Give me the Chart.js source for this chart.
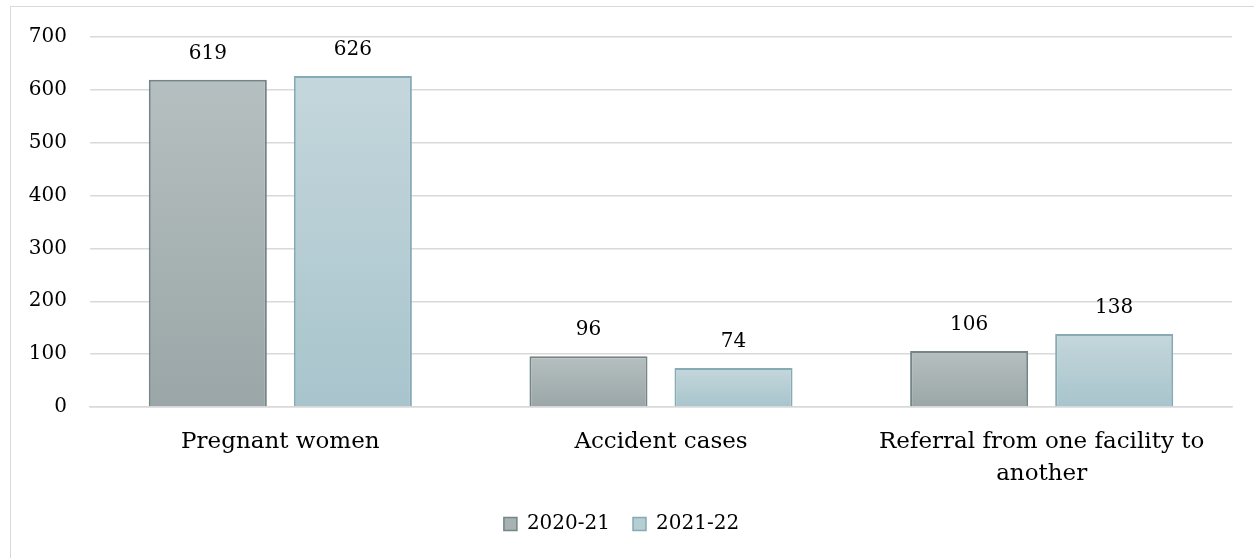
<!DOCTYPE html>
<html>
<head>
<meta charset="utf-8">
<script src="https://cdn.jsdelivr.net/npm/chart.js@4.4.0/dist/chart.umd.min.js"></script>
<style>
  html, body { margin: 0; padding: 0; background: #fff; overflow: hidden; width: 1254px; height: 558px; }
  #frame {
    position: absolute; left: 10px; top: 6px;
    width: 1320px; height: 600px;
    border: 1px solid #d9d9d9;
  }
  #wrap { position: absolute; left: 0; top: -5px; width: 1243px; height: 556px; }
</style>
</head>
<body>
<div id="frame">
  <div id="wrap"><canvas id="chart"></canvas></div>
</div>
<script>
// categorias y series
const categories = ['Pregnant women', 'Accident cases', ['Referral from one facility to', 'another']];
const series2020 = [619, 96, 106];
const series2021 = [626, 74, 138];
const seriesNames = ['2020-21', '2021-22'];
const yTicks = [0, 100, 200, 300, 400, 500, 600, 700];

const FONT = 'DejaVu Serif';

// degradado por barra
function barGradient(top, bottom, solid) {
  return function (ctx) {
    const chart = ctx.chart;
    if (!chart.chartArea || !ctx.parsed) return solid;
    const y = chart.scales.y;
    const yTop = y.getPixelForValue(ctx.parsed.y);
    const yBot = y.getPixelForValue(0);
    const g = chart.ctx.createLinearGradient(0, yTop, 0, yBot);
    g.addColorStop(0, top);
    g.addColorStop(1, bottom);
    return g;
  };
}

// etiquetas de valor encima de las barras
const valueLabels = {
  id: 'valueLabels',
  afterDatasetsDraw(chart) {
    const c = chart.ctx;
    c.save();
    c.font = '20px "' + FONT + '"';
    c.fillStyle = '#000';
    c.textAlign = 'center';
    c.textBaseline = 'alphabetic';
    chart.data.datasets.forEach((ds, i) => {
      chart.getDatasetMeta(i).data.forEach((bar, j) => {
        c.fillText(ds.data[j], bar.x, bar.y - 21);
      });
    });
    c.restore();
  }
};

const config = {
  type: 'bar',
  data: {
    labels: categories,
    datasets: [{
      label: seriesNames[0],
      data: series2020,
      backgroundColor: barGradient('#b6bfc0', '#9aa6a7', '#a8b2b3'),
      borderColor: '#738586',
      borderWidth: 2,
      categoryPercentage: 0.762,
      barPercentage: 0.814
    }, {
      label: seriesNames[1],
      data: series2021,
      backgroundColor: barGradient('#c4d7dc', '#a8c4cc', '#b6cdd3'),
      borderColor: '#87abb4',
      borderWidth: 2,
      categoryPercentage: 0.762,
      barPercentage: 0.814
    }]
  },
  options: {
    responsive: true,
    maintainAspectRatio: false,
    animation: false,
    layout: { padding: { top: 0, right: 22, left: 0, bottom: 14 } },
    plugins: {
      tooltip: { enabled: false },
      legend: {
        position: 'bottom',
        labels: {
          font: { family: FONT, size: 20 },
          color: '#000',
          boxWidth: 13,
          boxHeight: 13,
          padding: 23,
          generateLabels(chart) {
            const items = Chart.defaults.plugins.legend.labels.generateLabels(chart);
            const fills = ['#a8b2b3', '#b6cdd3'];
            items.forEach((it, i) => { it.fillStyle = fills[i]; it.lineWidth = 1.5; });
            return items;
          }
        }
      }
    },
    scales: {
      x: {
        grid: { display: false },
        border: { color: '#d9d9d9', width: 1.5 },
        ticks: {
          font: { family: FONT, size: 23, lineHeight: 1.35 },
          color: '#000',
          padding: 12,
          maxRotation: 0
        },
        afterFit(scale) { scale.height = 84; }
      },
      y: {
        min: 0,
        max: 700,
        afterBuildTicks(scale) { scale.ticks = yTicks.map(v => ({ value: v })); },
        grid: { color: '#d9d9d9', lineWidth: 1.5, drawTicks: false },
        border: { display: false },
        ticks: {
          font: { family: FONT, size: 20 },
          color: '#000',
          padding: 23
        },
        afterFit(scale) { scale.width = 79; }
      }
    }
  },
  plugins: [valueLabels]
};

function renderChart() {
  const canvas = document.getElementById('chart');
  const chart = new Chart(canvas, config);
}

renderChart();
</script>
</body>
</html>
